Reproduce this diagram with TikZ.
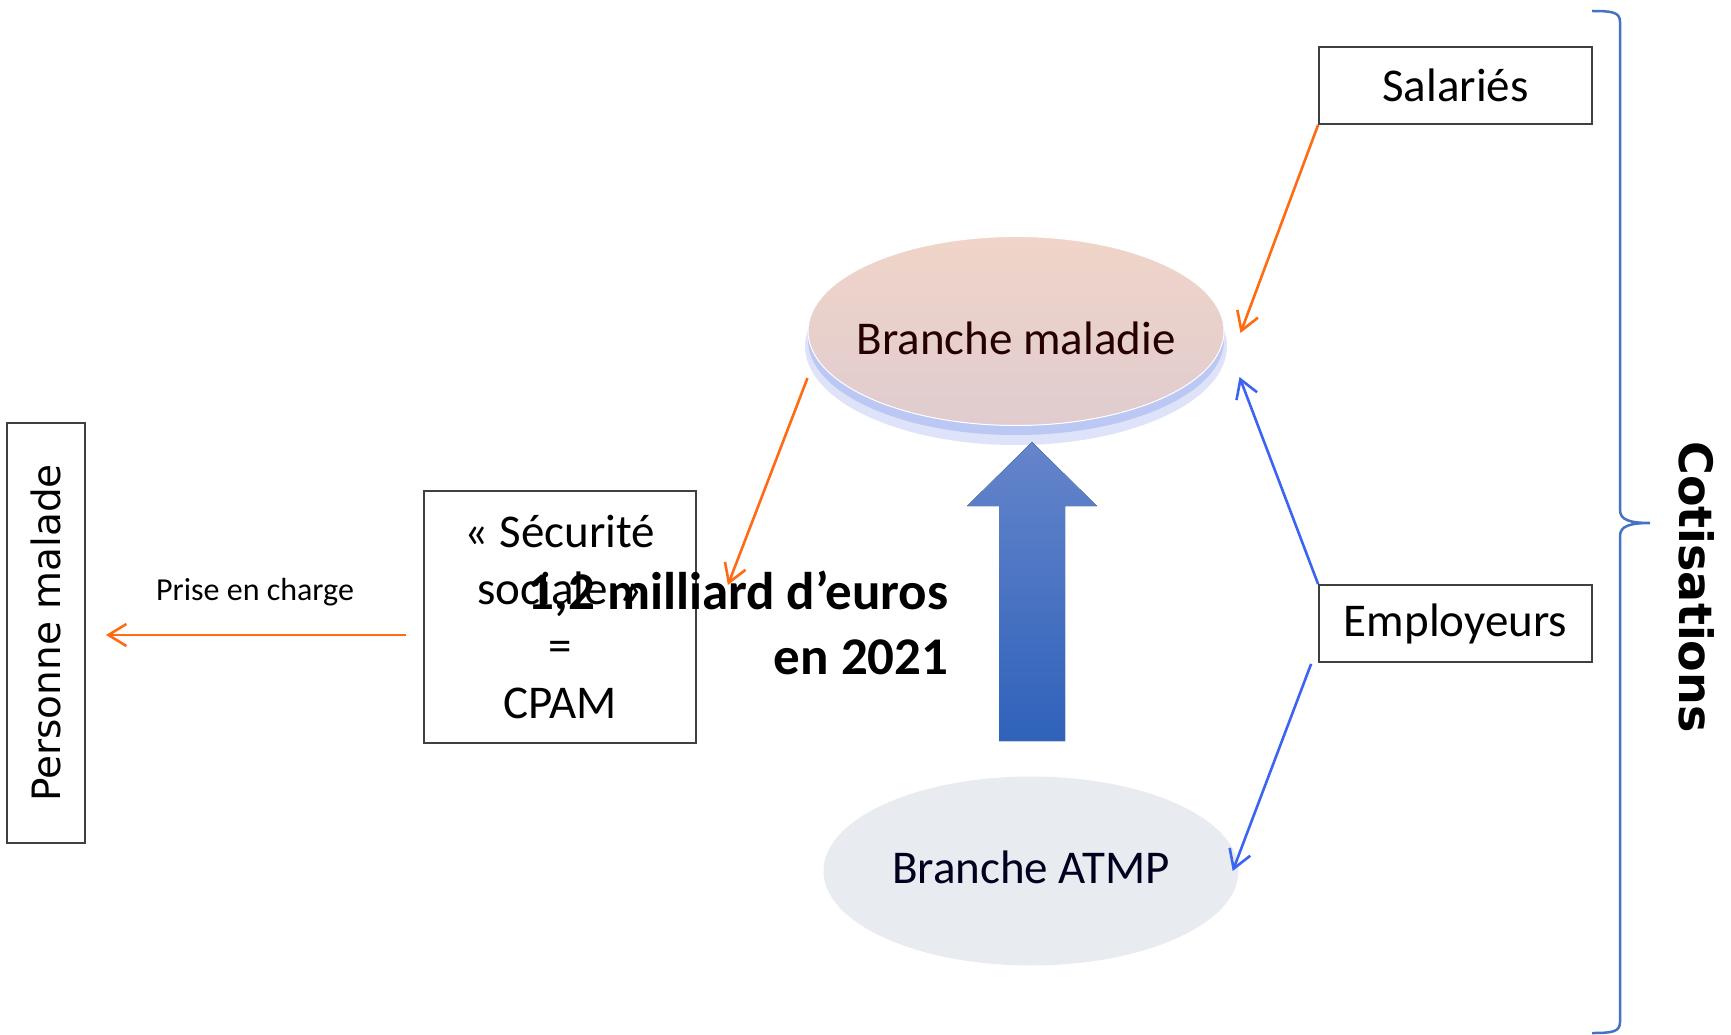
\documentclass[tikz,border=0pt]{standalone}
\usepackage{fontspec}
\setmainfont{Carlito}
\newfontfamily\verdanafont{DejaVu Sans}
\usetikzlibrary{arrows.meta, shapes.geometric}
\definecolor{orangefleche}{HTML}{FF6A13}
\definecolor{bleufleche}{HTML}{3B64F2}
\definecolor{bleuaccolade}{HTML}{4472C4}
\definecolor{bleuombre}{HTML}{BCC8F4}
\definecolor{peche}{HTML}{F0D4C8}
\definecolor{rosemaladie}{HTML}{E0CCCF}
\definecolor{grisatmp}{HTML}{E8EBF0}
\definecolor{bordboite}{HTML}{404040}
\definecolor{hautfleche}{HTML}{6585CB}
\definecolor{basfleche}{HTML}{2F62BA}
\tikzset{x=1pt, y=-1pt, >={Straight Barb[length=18pt,width=22pt]},
    boite/.style={rectangle, draw=bordboite, line width=1.8pt, inner sep=0pt},
    grandtexte/.style={font=\fontsize{47}{57}\selectfont},
    flecheorange/.style={->, draw=orangefleche, line width=2.6pt},
    flechebleue/.style={->, draw=bleufleche, line width=2.6pt}}

\begin{document}
\begin{tikzpicture}
    \useasboundingbox (0,0) rectangle (1731,1035);
    \fill[bleuombre!50] (1016,346) ellipse [x radius=211pt, y radius=99pt];
    \fill[bleuombre] (1016,340) ellipse [x radius=208pt, y radius=95pt];
    \node[ellipse, draw=white, line width=1pt, top color=peche, middle color=rosemaladie, bottom color=rosemaladie, minimum width=416pt, minimum height=189pt, inner sep=0pt, label={[text=black!85!red, grandtexte, yshift=-7pt]center:Branche maladie}] (maladie) at (1016,331) {};
    \node[ellipse, fill=grisatmp, minimum width=415pt, minimum height=189pt, inner sep=0pt, label={[text=black!88!blue, grandtexte, yshift=4pt]center:Branche ATMP}] (atmp) at (1031,871) {};
    \node[boite, minimum width=273pt, minimum height=77pt, grandtexte] (salaries) at (1455.5,85.5) {Salariés};
    \node[boite, minimum width=273pt, minimum height=77pt, grandtexte] (employeurs) at (1455.5,623.5) {Employeurs};
    \node[boite, minimum width=272pt, minimum height=252pt, align=center, grandtexte] (cpam) at (560,617) {« Sécurité\\sociale »\\=\\CPAM};
    \node[boite, rotate=90, minimum width=420pt, minimum height=78pt, font=\verdanafont\fontsize{39}{47}\selectfont] (personne) at (46,633) {Personne malade};
    \node[font=\fontsize{32}{39}\selectfont] (prise) at (255,592) {Prise en charge};
    \fill[top color=hautfleche, bottom color=basfleche] (999,741) -- (999,506) -- (967,506) -- (1032,442) -- (1097,506) -- (1065,506) -- (1065,741) -- cycle;
    \node[anchor=base east, align=right, font=\bfseries\fontsize{53}{65}\selectfont] (montant) at (952,674) {1,2 milliard d’euros\\en 2021};
    \draw[flecheorange] (salaries.south west) -- ([shift={(16,2)}]maladie.east);
    \draw[flecheorange] ([shift={(0,47)}]maladie.west) -- ([shift={(31,-32)}]cpam.east);
    \draw[flecheorange] ([shift={(-17,18)}]cpam.west) -- ([shift={(20,2)}]personne.south);
    \draw[flechebleue] (employeurs.north west) -- ([shift={(15,46)}]maladie.east);
    \draw[flechebleue] ([shift={(-7,1)}]employeurs.south west) -- ([shift={(-6,0)}]atmp.east);
    \draw[bleuaccolade, line width=2.5pt] (1592,11) .. controls (1612,11) and (1620,12) .. (1620,22) -- (1620,510) .. controls (1620,520) and (1630,523) .. (1650,523) .. controls (1630,523) and (1620,526) .. (1620,536) -- (1620,1022) .. controls (1620,1032) and (1612,1033) .. (1592,1033);
    \node[rotate=-90, font=\verdanafont\bfseries\fontsize{46}{55}\selectfont] (cotisations) at (1697,587) {Cotisations};
\end{tikzpicture}
\end{document}
